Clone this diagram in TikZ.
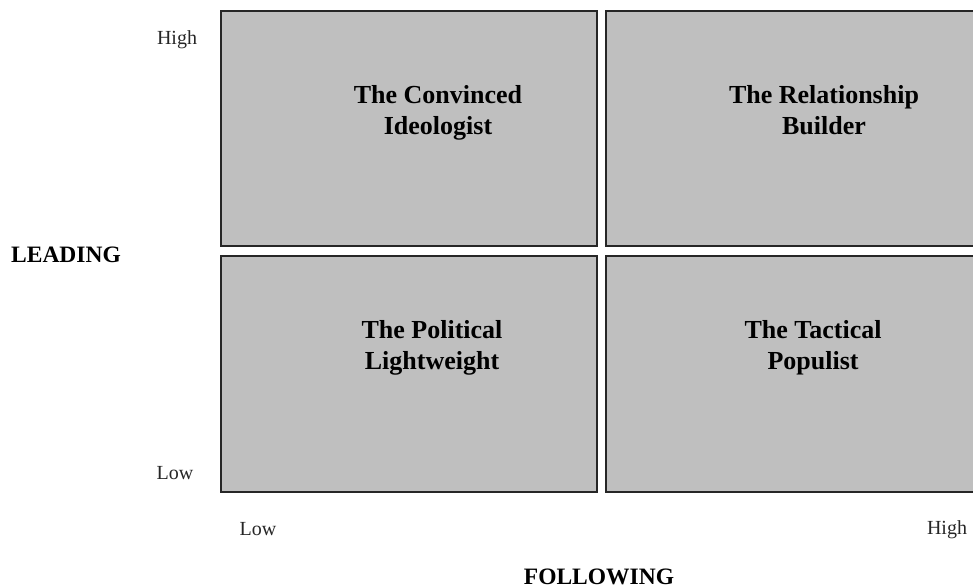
\documentclass[tikz,border=0pt]{standalone}
\usepackage{fontspec}
\setmainfont{Liberation Serif}
\begin{document}
\begin{tikzpicture}[x=1pt,y=-1pt,
  quad/.style={draw=black!85,line width=2pt,fill=black!25,anchor=north west,inner sep=0pt},
  qlabel/.style={anchor=base,align=center,inner sep=0pt,
    font=\bfseries\fontsize{26}{31}\selectfont},
  ticklbl/.style={anchor=base,inner sep=0pt,font=\fontsize{20}{24}\selectfont,text=black!85},
  axislbl/.style={anchor=base,inner sep=0pt,font=\bfseries\fontsize{23.5}{28}\selectfont}]
  \useasboundingbox (0,0) rectangle (973,584);
  \clip (0,0) rectangle (973,584);
  % four quadrants of the leading/following matrix
  \node[quad,minimum width=376pt,minimum height=235pt] (convinced) at (220,10) {};
  \node[quad,minimum width=372pt,minimum height=235pt] (relationship) at (605,10) {};
  \node[quad,minimum width=376pt,minimum height=236pt] (political) at (220,255) {};
  \node[quad,minimum width=372pt,minimum height=236pt] (tactical) at (605,255) {};
  % quadrant names (base anchor sits on the second line)
  \node[qlabel] (cvlabel) at (438,134) {The Convinced\\Ideologist};
  \node[qlabel] (rblabel) at (824,134) {The Relationship\\Builder};
  \node[qlabel] (pllabel) at (432,369) {The Political\\Lightweight};
  \node[qlabel] (tplabel) at (813,369) {The Tactical\\Populist};
  % axis ticks
  \node[ticklbl] (lhigh) at (177,44) {High};
  \node[ticklbl] (llow) at (175,479) {Low};
  \node[ticklbl] (flow) at (258,535) {Low};
  \node[ticklbl] (fhigh) at (947,534) {High};
  % axis titles
  \node[axislbl] (leading) at (66,262) {LEADING};
  \node[axislbl] (following) at (599,584) {FOLLOWING};
\end{tikzpicture}
\end{document}
